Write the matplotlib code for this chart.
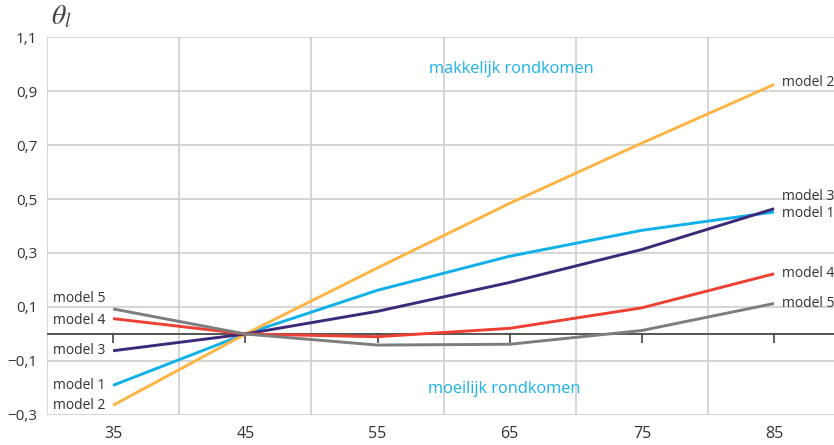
import numpy as np
import matplotlib
matplotlib.use('Agg')
import matplotlib.pyplot as plt

plt.rcParams['font.family'] = ['Open Sans', 'DejaVu Sans']
plt.rcParams['mathtext.fontset'] = 'stix'

ages = [35, 45, 55, 65, 75, 85]
model1 = [-0.190, 0.0, 0.162, 0.288, 0.384, 0.452]
model2 = [-0.264, 0.0, 0.245, 0.484, 0.707, 0.924]
model3 = [-0.062, 0.0, 0.084, 0.191, 0.313, 0.464]
model4 = [0.057, 0.0, -0.010, 0.021, 0.097, 0.223]
model5 = [0.093, 0.0, -0.041, -0.038, 0.013, 0.113]

names = ['model 1', 'model 2', 'model 3', 'model 4', 'model 5']
series = [model1, model2, model3, model4, model5]
colours = ['#10b0ea', '#fdb444', '#3e2878', '#ee3f33', '#7d7d7d']

yticks = [-0.3, -0.1, 0.1, 0.3, 0.5, 0.7, 0.9, 1.1]
ytick_labels = ['\u22120,3', '\u22120,1', '0,1', '0,3', '0,5', '0,7', '0,9', '1,1']
xgrid = [30, 40, 50, 60, 70, 80]

text_col = '#333333'
grid_col = '#d2d2d2'

fig = plt.figure(figsize=(8.34, 4.45), dpi=100)
ax = fig.add_axes([47/834, 30/445, 787/834, 378/445])
ax.set_xlim(30, 30 + 787/13.22)
ax.set_ylim(-0.3, 1.1)

for s in ax.spines.values():
    s.set_visible(False)

for y in yticks:
    ax.axhline(y, color=grid_col, lw=1.3, zorder=1)
for x in xgrid:
    ax.axvline(x, color=grid_col, lw=1.3, zorder=1)

# zero line with small ticks
ax.axhline(0, color='#555555', lw=1.4, zorder=2)
ax.vlines(ages, -0.033, 0.003, color='#444444', lw=1.2, zorder=2)

for vals, c in zip(series, colours):
    ax.plot(ages, vals, color=c, lw=2.1, zorder=3, solid_capstyle='butt')

ax.set_yticks(yticks)
ax.set_yticklabels(ytick_labels)
ax.set_xticks(ages)
ax.set_xticklabels([str(a) for a in ages])
ax.tick_params(length=0, labelcolor=text_col)
ax.tick_params(axis='y', pad=7, labelsize=11)
ax.tick_params(axis='x', pad=8, labelsize=11.5)

# labels at the left end
left_dy = {'model 5': 10, 'model 4': -2}
for n, vals in zip(names, series):
    ax.annotate(n, (ages[0], vals[0]), xytext=(-8, left_dy.get(n, 0)),
                textcoords='offset pixels', ha='right', va='center',
                fontsize=10, color=text_col)

# labels at the right end
right_dy = {'model 3': 12, 'model 1': -2, 'model 2': 2}
for n, vals in zip(names, series):
    ax.annotate(n, (ages[-1], vals[-1]), xytext=(8, right_dy.get(n, 0)),
                textcoords='offset pixels', ha='left', va='center',
                fontsize=10, color=text_col, annotation_clip=False)

ax.text(65.1, 0.98, 'makkelijk rondkomen', ha='center', va='center',
        fontsize=11.8, color='#1ab2e8')
ax.text(64.6, -0.205, 'moeilijk rondkomen', ha='center', va='center',
        fontsize=11.8, color='#1ab2e8')

fig.text(51/834, 1 - 17/445, r'$\theta_l$', fontsize=20, color='#444444',
         ha='left', va='center')

fig.savefig('out.png', dpi=100)
